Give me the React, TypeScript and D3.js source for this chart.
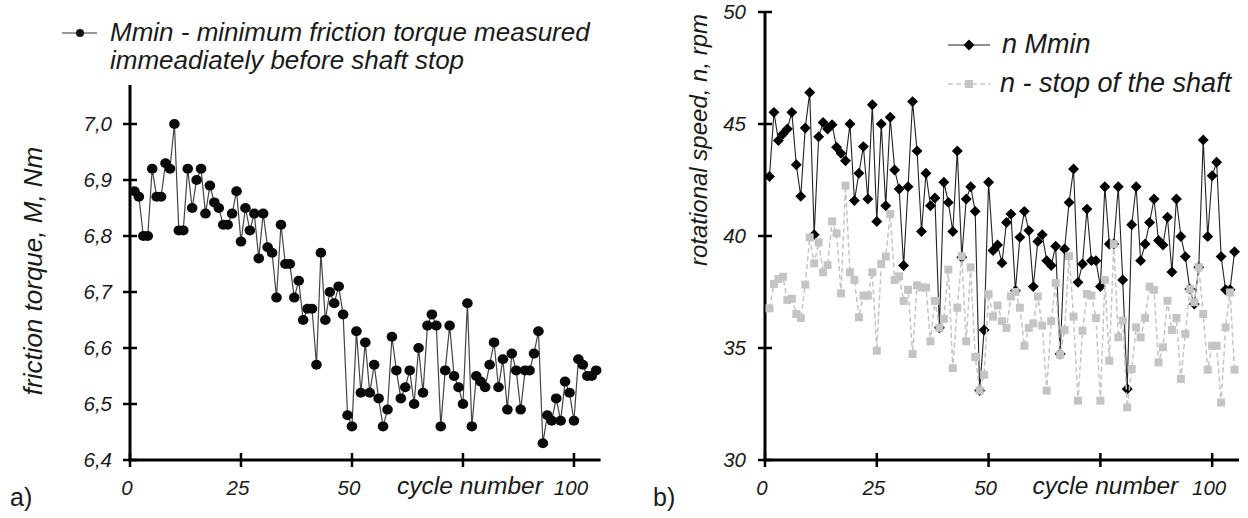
import React from "react";
import * as d3 from "d3";

// ---------- DATA ----------
// Left chart: Mmin – minimum friction torque, cycles 1..105
const torque = [
  6.88, 6.87, 6.80, 6.80, 6.92, 6.87, 6.87, 6.93, 6.92, 7.00,
  6.81, 6.81, 6.92, 6.85, 6.90, 6.92, 6.84, 6.89, 6.86, 6.85,
  6.82, 6.82, 6.84, 6.88, 6.79, 6.85, 6.81, 6.84, 6.76, 6.84,
  6.78, 6.77, 6.69, 6.82, 6.75, 6.75, 6.69, 6.72, 6.65, 6.67,
  6.67, 6.57, 6.77, 6.65, 6.70, 6.68, 6.71, 6.66, 6.48, 6.46,
  6.63, 6.52, 6.61, 6.52, 6.57, 6.51, 6.46, 6.49, 6.62, 6.56,
  6.51, 6.53, 6.56, 6.50, 6.60, 6.52, 6.64, 6.66, 6.64, 6.46,
  6.56, 6.64, 6.55, 6.53, 6.50, 6.68, 6.46, 6.55, 6.54, 6.53,
  6.57, 6.61, 6.53, 6.58, 6.49, 6.59, 6.56, 6.49, 6.56, 6.56,
  6.59, 6.63, 6.43, 6.48, 6.47, 6.51, 6.47, 6.54, 6.52, 6.47,
  6.58, 6.57, 6.55, 6.55, 6.56,
];

// Right chart: n Mmin
const nMmin = [
  42.66, 45.52, 44.26, 44.55, 44.78, 45.52, 43.18, 41.77, 44.82, 46.41,
  40.06, 44.43, 45.07, 44.78, 44.97, 43.96, 43.69, 43.36, 45.0, 41.58,
  42.8, 43.99, 41.65, 45.86, 40.65, 45.0, 41.35, 45.3, 42.95, 42.1,
  38.68, 42.2, 46.0, 43.8, 40.2, 42.8, 41.35, 41.7, 35.9, 42.4,
  41.5, 40.2, 43.8, 39.05, 41.65, 42.2, 41.1, 33.1, 35.8, 42.4,
  39.35, 39.6, 38.8, 40.6, 40.98, 37.56, 39.94, 41.1, 40.24, 37.74,
  39.76, 40.06, 38.9, 38.68, 39.54, 34.73, 39.42, 41.5, 42.99, 37.93,
  38.75, 41.2, 38.9, 38.9, 37.74, 42.2, 39.64, 39.64, 42.2, 38.04,
  33.17, 40.5, 42.2, 38.9, 39.64, 40.6, 41.65, 39.8, 39.6, 40.84,
  38.39, 41.65, 39.98, 39.08, 37.63, 36.96, 38.6, 44.29, 39.98, 42.69,
  43.29, 39.08, 37.6, 37.6, 39.3,
];

// Right chart: n - stop of the shaft
const nStop = [
  36.77, 37.86, 38.08, 38.18, 37.14, 37.2, 36.52, 36.34, 37.83, 39.94,
  38.78, 39.72, 38.38, 38.7, 40.65, 40.12, 37.44, 42.25, 38.38, 38.04,
  36.37, 37.34, 37.34, 38.38, 34.88, 38.75, 39.08, 40.98, 38.04, 38.2,
  37.1, 37.6, 34.73, 37.8, 37.7, 37.7, 35.3, 37.1, 35.9, 36.3,
  38.5, 34.1, 36.8, 39.1, 35.3, 38.6, 34.6, 33.1, 33.8, 37.4,
  36.4, 36.9, 36.2, 35.9, 37.3, 37.5, 36.8, 35.1, 35.9, 36.1,
  37.3, 36.0, 33.1, 36.2, 37.9, 34.7, 35.8, 39.1, 36.4, 32.65,
  35.77, 37.41, 37.34, 36.34, 32.65, 38.04, 34.43, 39.64, 35.48, 36.22,
  32.35, 34.06, 35.92, 35.48, 36.34, 37.74, 37.59, 34.36, 35.03, 37.11,
  35.8, 36.34, 33.62, 35.63, 37.63, 37.04, 38.6, 36.52, 34.03, 35.1,
  35.1, 32.57, 35.92, 37.48, 34.03,
];

const xTicks = [0, 25, 50, 75, 100];
const leftYTicks = [6.4, 6.5, 6.6, 6.7, 6.8, 6.9, 7.0];
const rightYTicks = [30, 35, 40, 45, 50];

const legendLeft = ["Mmin - minimum friction torque measured", "immeadiately before shaft stop"];
const legendRight = ["n Mmin", "n - stop of the shaft"];

// ---------- STYLE ----------
const FONT = "'Liberation Sans', Arial, sans-serif";
const TXT = "#1a1a1a";
const TICK_FS = 20.5;

export default function App() {
  const xL = d3.scaleLinear().domain([0, 106]).range([130, 600.6]);
  const yL = d3.scaleLinear().domain([6.4, 7.0]).range([460, 124]);
  const xR = d3.scaleLinear().domain([0, 106]).range([765, 1239]);
  const yR = d3.scaleLinear().domain([30, 50]).range([460, 12]);

  const lineL = d3.line<number>().x((_, i) => xL(i + 1)).y((d) => yL(d));
  const lineR1 = d3.line<number>().x((_, i) => xR(i + 1)).y((d) => yR(d));

  const fmtComma = (v: number) => d3.format(".1f")(v).replace(".", ",");

  const diamond = d3.symbol().type(d3.symbolDiamond2).size(76)();
  const square = d3.symbol().type(d3.symbolSquare).size(64)();

  return (
    <svg width={1248} height={518} style={{ display: "block", position: "absolute", left: 0, top: 0 }}>
      <rect width={1248} height={518} fill="#fff" />

      {/* ===== LEFT CHART ===== */}
      <line x1={62} x2={97} y1={33} y2={33} stroke="#333" strokeWidth={1.2} />
      <circle cx={80} cy={33} r={4} fill="#111" />
      <text x={110} y={41} fontFamily={FONT} fontStyle="italic" fontSize={26} fill={TXT}>{legendLeft[0]}</text>
      <text x={110} y={69} fontFamily={FONT} fontStyle="italic" fontSize={26} fill={TXT}>{legendLeft[1]}</text>

      <line x1={xL(0)} x2={xL(0)} y1={85} y2={461.5} stroke="#000" strokeWidth={3} />
      <line x1={xL(0) - 1.5} x2={xL(106)} y1={460} y2={460} stroke="#000" strokeWidth={3} />
      {leftYTicks.map((t) => (
        <g key={"ly" + t}>
          <line x1={xL(0) - 7} x2={xL(0) + 7} y1={yL(t)} y2={yL(t)} stroke="#000" strokeWidth={2.5} />
          <text x={112} y={yL(t) + 7} textAnchor="end" fontFamily={FONT} fontStyle="italic" fontSize={TICK_FS} fill={TXT}>
            {fmtComma(t)}
          </text>
        </g>
      ))}
      {xTicks.map((t) => (
        <g key={"lx" + t}>
          <line x1={xL(t)} x2={xL(t)} y1={453} y2={467} stroke="#000" strokeWidth={2.5} />
          {t !== 75 && (
            <text x={xL(t) - 3} y={495} textAnchor="middle" fontFamily={FONT} fontStyle="italic" fontSize={TICK_FS} fill={TXT}>
              {t}
            </text>
          )}
        </g>
      ))}
      <text x={xL(75) + 7} y={494} textAnchor="middle" fontFamily={FONT} fontStyle="italic" fontSize={24.5} fill={TXT}>cycle number</text>
      <text transform={`translate(42,271) rotate(-90)`} textAnchor="middle" fontFamily={FONT} fontStyle="italic" fontSize={26} fill={TXT}>
        friction torque, M, Nm
      </text>
      <text x={10} y={506} fontFamily={FONT} fontSize={25} fill={TXT}>a)</text>

      <path d={lineL(torque) || ""} fill="none" stroke="#444" strokeWidth={1.2} />
      {torque.map((v, i) => (
        <ellipse key={"lp" + i} cx={xL(i + 1)} cy={yL(v)} rx={5.3} ry={5} fill="#0a0a0a" />
      ))}

      {/* ===== RIGHT CHART ===== */}
      <line x1={xR(0)} x2={xR(0)} y1={11} y2={461.5} stroke="#000" strokeWidth={3} />
      <line x1={xR(0) - 1.5} x2={xR(106)} y1={460} y2={460} stroke="#000" strokeWidth={3} />
      {rightYTicks.map((t) => (
        <g key={"ry" + t}>
          <line x1={xR(0) - 7} x2={xR(0) + 7} y1={yR(t)} y2={yR(t)} stroke="#000" strokeWidth={2.5} />
          <text x={746} y={yR(t) + 7} textAnchor="end" fontFamily={FONT} fontStyle="italic" fontSize={TICK_FS} fill={TXT}>
            {t}
          </text>
        </g>
      ))}
      {xTicks.map((t) => (
        <g key={"rx" + t}>
          <line x1={xR(t)} x2={xR(t)} y1={453} y2={467} stroke="#000" strokeWidth={2.5} />
          {t !== 75 && (
            <text x={xR(t) - 3} y={495} textAnchor="middle" fontFamily={FONT} fontStyle="italic" fontSize={TICK_FS} fill={TXT}>
              {t}
            </text>
          )}
        </g>
      ))}
      <text x={xR(75) + 5} y={494} textAnchor="middle" fontFamily={FONT} fontStyle="italic" fontSize={24.5} fill={TXT}>cycle number</text>
      <text transform={`translate(707,140) rotate(-90)`} textAnchor="middle" fontFamily={FONT} fontStyle="italic" fontSize={24} fill={TXT}>
        rotational speed, n, rpm
      </text>
      <text x={653} y={506} fontFamily={FONT} fontSize={25} fill={TXT}>b)</text>

      <line x1={948} x2={990} y1={45} y2={45} stroke="#222" strokeWidth={1.2} />
      <path d={diamond} transform="translate(969,45)" fill="#000" />
      <text x={1002} y={53} fontFamily={FONT} fontStyle="italic" fontSize={27} fill={TXT}>{legendRight[0]}</text>
      <line x1={948} x2={990} y1={84} y2={84} stroke="#c4c4c4" strokeWidth={1.5} strokeDasharray="5,3" />
      <path d={square} transform="translate(969,84)" fill="#c4c4c4" />
      <text x={1000} y={92} fontFamily={FONT} fontStyle="italic" fontSize={27} fill={TXT}>{legendRight[1]}</text>

      <path d={lineR1(nMmin) || ""} fill="none" stroke="#222" strokeWidth={1.1} />
      {nMmin.map((v, i) => (
        <path key={"rb" + i} d={diamond} transform={`translate(${xR(i + 1)},${yR(v)})`} fill="#000" />
      ))}
      <path d={lineR1(nStop) || ""} fill="none" stroke="#c4c4c4" strokeWidth={1.5} strokeDasharray="5,3" />
      {nStop.map((v, i) => (
        <path key={"rg" + i} d={square} transform={`translate(${xR(i + 1)},${yR(v)})`} fill="#c4c4c4" />
      ))}
    </svg>
  );
}
